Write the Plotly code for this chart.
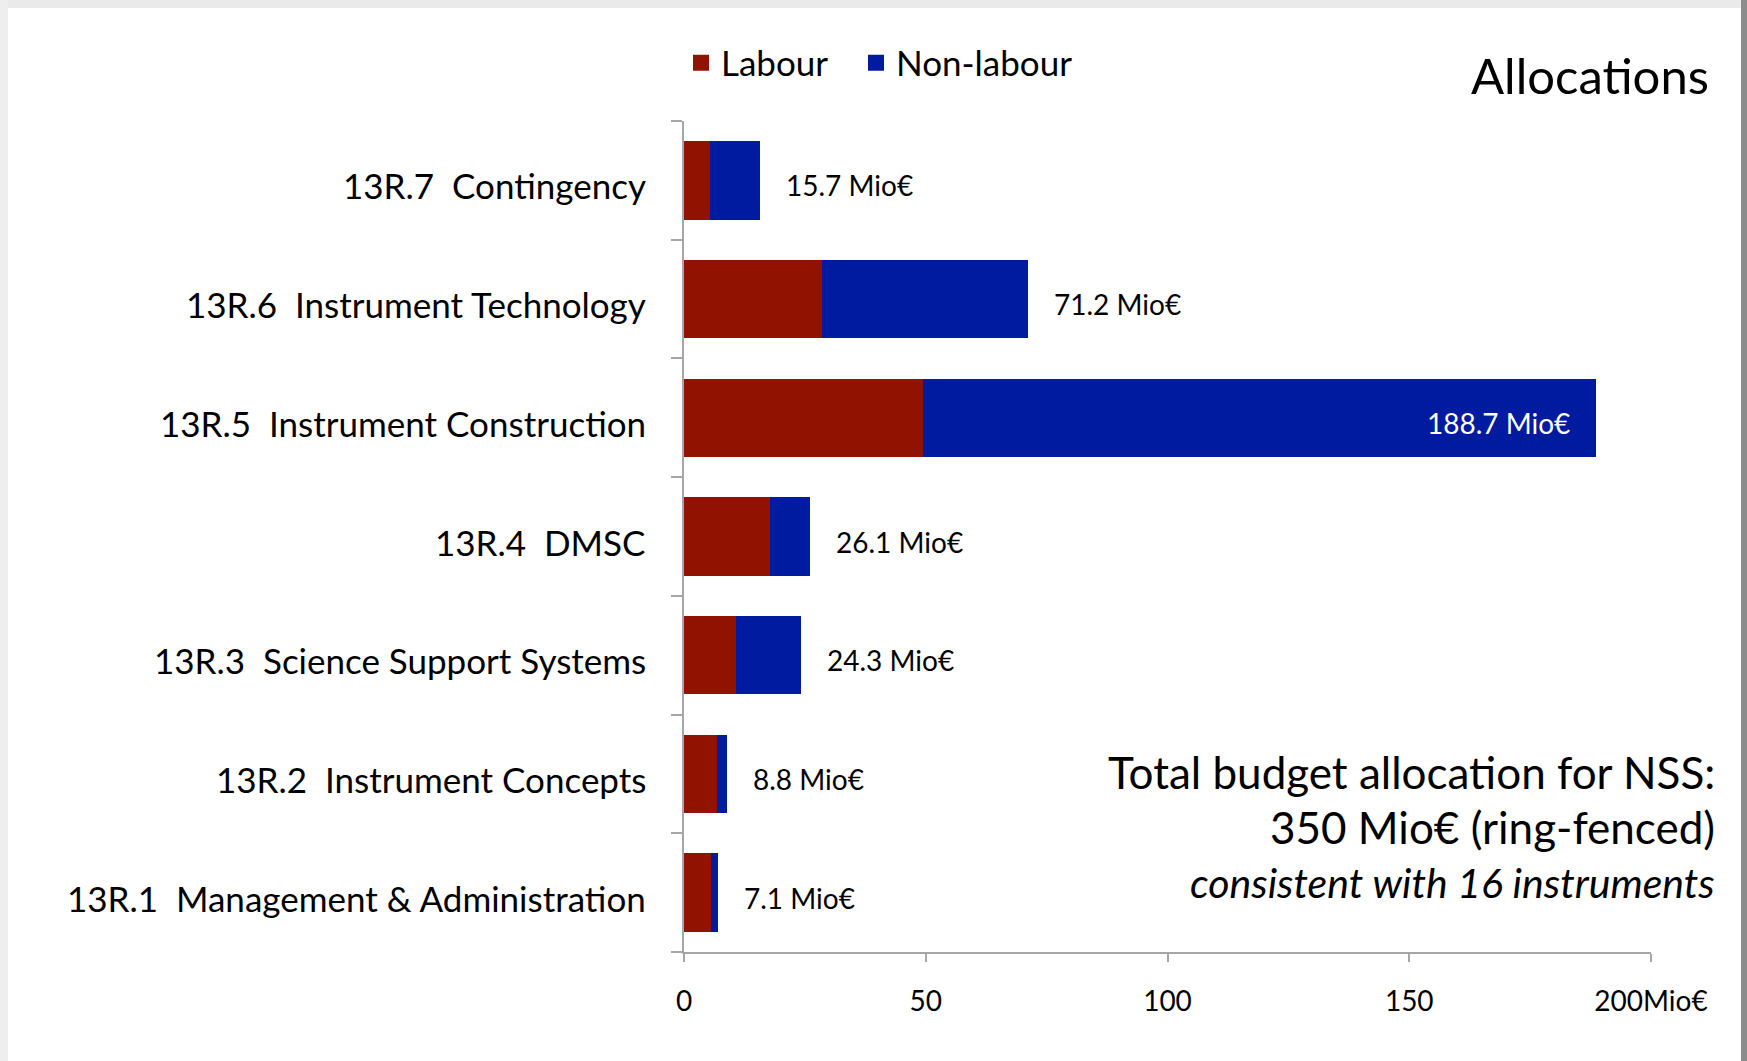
import plotly.graph_objects as go

# ---- data ----
categories = [
    "13R.1  Management & Administration",
    "13R.2  Instrument Concepts",
    "13R.3  Science Support Systems",
    "13R.4  DMSC",
    "13R.5  Instrument Construction",
    "13R.6  Instrument Technology",
    "13R.7  Contingency",
]
totals = [7.1, 8.8, 24.3, 26.1, 188.7, 71.2, 15.7]
labour = [5.5, 6.9, 10.8, 17.7, 49.5, 28.6, 5.3]
non_labour = [round(t - l, 1) for t, l in zip(totals, labour)]
total_labels = ["7.1 Mio€", "8.8 Mio€", "24.3 Mio€", "26.1 Mio€", "188.7 Mio€", "71.2 Mio€", "15.7 Mio€"]
label_inside = [False, False, False, False, True, False, False]
x_tickvals = [0, 50, 100, 150, 200]
x_ticktext = ["0", "50", "100", "150", "200Mio€"]

LABOUR_COLOR = "#911200"
NONLAB_COLOR = "#001AA0"
FONT = "Lato"

W, H = 1747, 1061
ML, MR, MT, MB = 684, 96, 121, 109
PW, PH = W - ML - MR, H - MT - MB


def px_x(px):
    return (px - ML) / PW


def px_y(py):
    return (H - MB - py) / PH


fig = go.Figure()
fig.add_trace(go.Bar(
    y=categories, x=labour, orientation="h", name="Labour",
    marker=dict(color=LABOUR_COLOR, line=dict(width=0)), showlegend=False,
))
fig.add_trace(go.Bar(
    y=categories, x=non_labour, orientation="h", name="Non-labour",
    marker=dict(color=NONLAB_COLOR, line=dict(width=0)), showlegend=False,
))
# legend entries with larger square swatches
fig.add_trace(go.Scatter(x=[None], y=[None], mode="markers", name="Labour", legend="legend",
                         marker=dict(symbol="square", size=19, color=LABOUR_COLOR)))
fig.add_trace(go.Scatter(x=[None], y=[None], mode="markers", name="Non-labour", legend="legend2",
                         marker=dict(symbol="square", size=19, color=NONLAB_COLOR)))

# category labels (slightly below the bar centre, as in the original)
for cat in categories:
    fig.add_annotation(
        x=0, y=cat, xref="paper", yref="y", text=cat, showarrow=False,
        xanchor="right", yanchor="middle", xshift=-36, yshift=-5,
        font=dict(family=FONT, size=35, color="black"),
    )

for cat, tot, lab, inside in zip(categories, totals, total_labels, label_inside):
    fig.add_annotation(
        x=tot, y=cat, xref="x", yref="y", text=lab, showarrow=False,
        xanchor="right" if inside else "left", xshift=-24 if inside else 24,
        yshift=-5,
        font=dict(family=FONT, size=28, color="white" if inside else "black"),
    )

fig.add_annotation(x=px_x(1711), y=px_y(75), xref="paper", yref="paper",
                   text="Allocations", showarrow=False, xanchor="right", yanchor="middle",
                   font=dict(family=FONT, size=49, color="black"))
fig.add_annotation(x=px_x(1717), y=px_y(772), xref="paper", yref="paper",
                   text="Total budget allocation for NSS:", showarrow=False,
                   xanchor="right", yanchor="middle",
                   font=dict(family=FONT, size=44, color="black"))
fig.add_annotation(x=px_x(1717), y=px_y(827), xref="paper", yref="paper",
                   text="350 Mio€ (ring-fenced)", showarrow=False,
                   xanchor="right", yanchor="middle",
                   font=dict(family=FONT, size=44, color="black"))
fig.add_annotation(x=px_x(1717), y=px_y(882), xref="paper", yref="paper",
                   text="<i>consistent with 16 instruments</i>", showarrow=False,
                   xanchor="right", yanchor="middle",
                   font=dict(family=FONT, size=41, color="black"))

# slide frame shading
frame = [
    (0, 0, W, 8, "#EAEAEA"),
    (0, 0, 8, H, "#EEEEEE"),
    (W - 6, 0, W, H, "#8C8C8C"),
]
for x0, y0, x1, y1, c in frame:
    fig.add_shape(type="rect", xref="paper", yref="paper",
                  x0=px_x(x0), x1=px_x(x1), y0=px_y(y0), y1=px_y(y1),
                  fillcolor=c, line=dict(width=0), layer="below")

legend_style = dict(orientation="h", xanchor="left", y=px_y(63), yanchor="middle",
                    font=dict(family=FONT, size=35, color="black"),
                    bgcolor="rgba(0,0,0,0)", itemwidth=30)

AXIS_COLOR = "#A6A6A6"
fig.update_layout(
    width=W, height=H,
    margin=dict(l=ML, r=MR, t=MT, b=MB, pad=0),
    barmode="stack", bargap=0.34,
    plot_bgcolor="white", paper_bgcolor="white",
    font=dict(family=FONT, color="black"),
    legend=dict(x=px_x(681), **legend_style),
    legend2=dict(x=px_x(856), **legend_style),
    xaxis=dict(range=[0, 200], tickvals=x_tickvals, ticktext=x_ticktext,
               showgrid=False, zeroline=False, showline=True, linecolor=AXIS_COLOR, linewidth=1.5,
               ticks="outside", ticklen=8, tickcolor=AXIS_COLOR, tickwidth=1.5,
               tickfont=dict(family=FONT, size=28, color="black"), ticklabelstandoff=16),
    yaxis=dict(type="category", categoryorder="array", categoryarray=categories,
               range=[-0.5, 6.5], showgrid=False, zeroline=False,
               showline=True, linecolor=AXIS_COLOR, linewidth=1.5,
               ticks="outside", ticklen=11, tickcolor=AXIS_COLOR, tickwidth=1.5,
               tickson="boundaries", showticklabels=False),
)

fig.write_html("out.html")
